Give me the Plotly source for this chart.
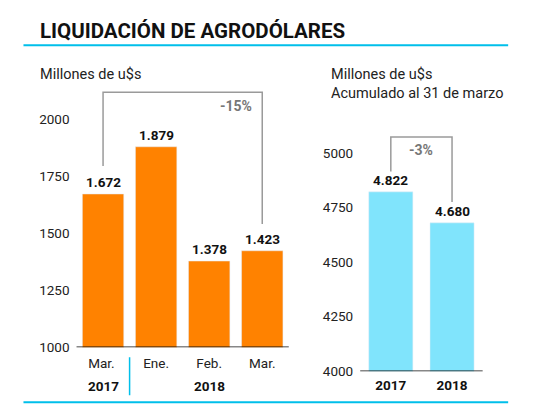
import plotly.graph_objects as go

months = ["Mar. ", "Ene.", "Feb.", "Mar."]
monthly = [1672, 1879, 1378, 1423]
monthly_labels = ["1.672", "1.879", "1.378", "1.423"]
years = ["2017", "2018"]
accum = [4822, 4680]
accum_labels = ["4.822", "4.680"]
left_ticks = [1000, 1250, 1500, 1750, 2000]
right_ticks = [4000, 4250, 4500, 4750, 5000]

ORANGE = "#FF8200"
CYAN = "#80E4FC"
LINE = "#00BFEA"
GRAY = "#9a9a9a"
F = "Roboto"
S = 0.98  # screenshot scale incl. page margin


def px(x):
    return (x / S - 8) / 540


def py(y):
    return 1 - (y / S - 8) / 405


fig = go.Figure()
fig.add_bar(x=months, y=monthly, marker_color=ORANGE, width=0.78, xaxis="x", yaxis="y")
fig.add_bar(x=[0, 1], y=accum, marker_color=CYAN, width=0.72, xaxis="x2", yaxis="y2")

ann = []
for m, v, t in zip(months, monthly, monthly_labels):
    ann.append(dict(x=m, y=v, xref="x", yref="y", text=f"<b>{t}</b>", showarrow=False,
                    yanchor="bottom", yshift=2, font=dict(size=13.5, color="#111", family=F)))
for i, (v, t) in enumerate(zip(accum, accum_labels)):
    ann.append(dict(x=i, y=v, xref="x2", yref="y2", text=f"<b>{t}</b>", showarrow=False,
                    yanchor="bottom", yshift=2, font=dict(size=13.5, color="#111", family=F)))
ann += [
    dict(x=3, y=2118, xref="x", yref="y", text="<b>-15%</b>", showarrow=False,
         xanchor="right", yanchor="top", xshift=-8, yshift=-4, font=dict(size=14, color="#777", family=F)),
    dict(x=0.5, y=5073, xref="x2", yref="y2", text="<b>-3%</b>", showarrow=False,
         yanchor="top", yshift=-3, font=dict(size=14, color="#777", family=F)),
    dict(x=px(37), y=py(31), xref="paper", yref="paper", text="<b>LIQUIDACIÓN DE AGRODÓLARES</b>",
         showarrow=False, xanchor="left", yanchor="middle", font=dict(size=20.5, color="#111", family=F)),
    dict(x=px(37), y=py(74), xref="paper", yref="paper", text="Millones de u$s",
         showarrow=False, xanchor="left", yanchor="middle", font=dict(size=14.5, color="#222", family=F)),
    dict(x=px(322), y=py(84), xref="paper", yref="paper",
         text="Millones de u$s<br>Acumulado al 31 de marzo", align="left",
         showarrow=False, xanchor="left", yanchor="middle", font=dict(size=14.5, color="#222", family=F)),
    dict(x=0, y=py(386), xref="x", yref="paper", text="<b>2017</b>", showarrow=False,
         yanchor="middle", font=dict(size=13.5, color="#111", family=F)),
    dict(x=2, y=py(386), xref="x", yref="paper", text="<b>2018</b>", showarrow=False,
         yanchor="middle", font=dict(size=13.5, color="#111", family=F)),
]

shapes = [
    dict(type="rect", xref="paper", yref="paper", x0=px(23), x1=px(498), y0=py(7), y1=1.05,
         fillcolor=LINE, line_width=0),
    dict(type="line", xref="paper", yref="paper", x0=px(23), x1=px(498), y0=py(45), y1=py(45),
         line=dict(color=LINE, width=2)),
    dict(type="line", xref="paper", yref="paper", x0=px(23), x1=px(498), y0=py(402), y1=py(402),
         line=dict(color=LINE, width=2)),
    dict(type="line", xref="x", yref="paper", x0=0.5, x1=0.5, y0=py(395), y1=py(357),
         line=dict(color=LINE, width=1.5)),
    dict(type="path", xref="x", yref="y", path="M 0,1795 L 0,2118 L 3,2118 L 3,1540",
         line=dict(color=GRAY, width=1.5)),
    dict(type="path", xref="x2", yref="y2", path="M 0,4915 L 0,5073 L 1,5073 L 1,4775",
         line=dict(color=GRAY, width=1.5)),
    dict(type="line", xref="paper", yref="y", x0=px(75), x1=px(283), y0=1000, y1=1000,
         line=dict(color="#111", width=1.5)),
    dict(type="line", xref="paper", yref="y2", x0=px(353), x1=px(473), y0=4000, y1=4000,
         line=dict(color="#111", width=1.5)),
]

fig.update_layout(
    width=540, height=405, margin=dict(l=0, r=0, t=0, b=0),
    paper_bgcolor="white", plot_bgcolor="white", showlegend=False,
    font=dict(family=F, color="#222"),
    annotations=ann, shapes=shapes,
    xaxis=dict(domain=[px(75), px(283)], type="category", range=[-0.5, 3.5], showgrid=False,
               ticks="", showline=False, ticklabelstandoff=6,
               tickfont=dict(size=13.5, color="#222"), fixedrange=True),
    yaxis=dict(domain=[py(347), py(84.8)], range=[1000, 2150], tickvals=left_ticks, showgrid=False,
               zeroline=False, ticks="", ticklabelstandoff=6, tickfont=dict(size=13.5, color="#222")),
    xaxis2=dict(domain=[px(353), px(473)], type="linear", range=[-0.5, 1.5], anchor="y2",
                showgrid=False, zeroline=False, ticks="", tickvals=[0, 1], ticklabelstandoff=4,
                ticktext=[f"<b>{y}</b>" for y in years], tickfont=dict(size=13.5, color="#111")),
    yaxis2=dict(domain=[py(371), py(131)], range=[4000, 5100], anchor="x2", tickvals=right_ticks,
                showgrid=False, zeroline=False, ticks="", ticklabelstandoff=6,
                tickfont=dict(size=13.5, color="#222")),
)
fig.write_html("out.html")
